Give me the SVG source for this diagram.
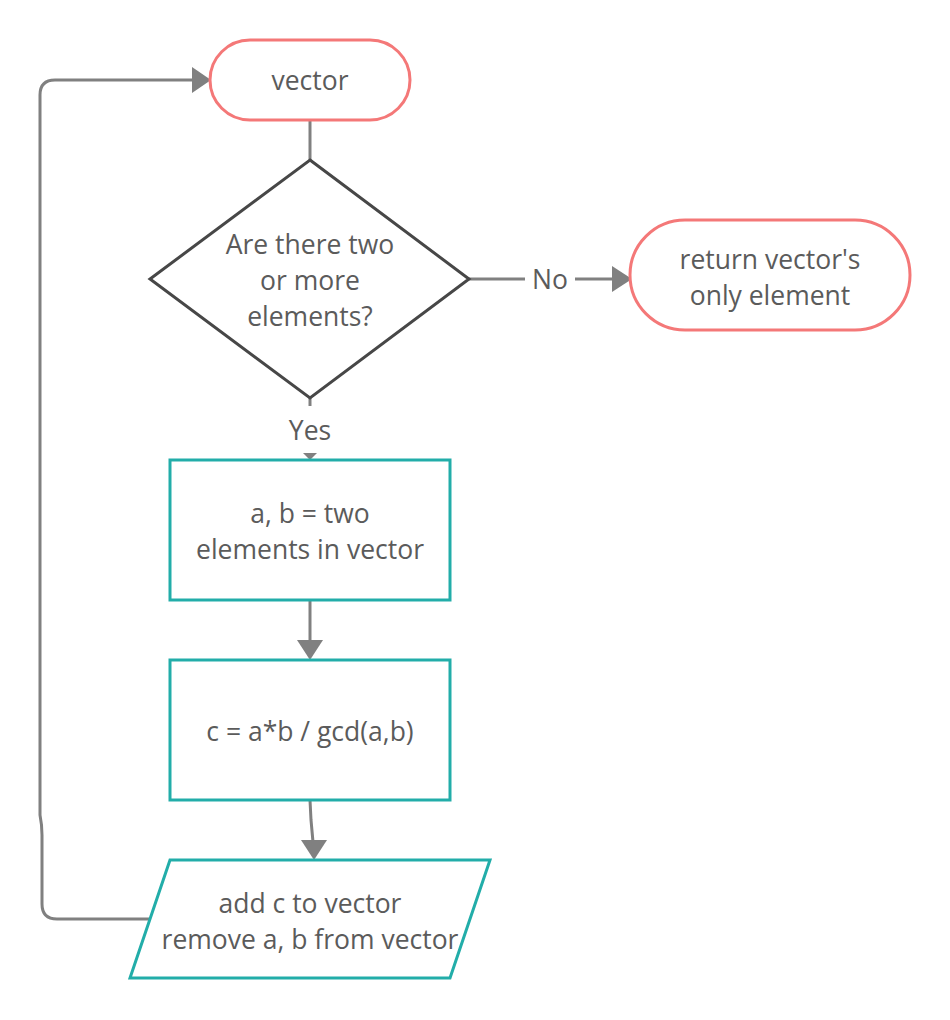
<svg xmlns="http://www.w3.org/2000/svg" width="950" height="1020" viewBox="0 0 950 1020">
<defs>
<style>
.t{font-family:"Open Sans","Noto Sans",sans-serif;font-size:26.5px;fill:#5b5b5b;text-anchor:middle}
.term{fill:#fff;stroke:#F47878;stroke-width:3}
.proc{fill:#fff;stroke:#22ADA9;stroke-width:3}
.dec{fill:#fff;stroke:#474747;stroke-width:3}
.c{fill:none;stroke:#808080;stroke-width:3}
.ah{fill:#808080}
</style>
</defs>
<rect width="950" height="1020" fill="#fff"/>
<g id="connectors">
<path class="c" d="M310,120 V160"/>
<path class="c" d="M469,279 H525"/>
<path class="c" d="M575,279 H614"/>
<polygon class="ah" points="612,266 632,279 612,292"/>
<text class="t" x="550" y="289">No</text>
<path class="c" d="M310,398 V406"/>
<text class="t" x="310" y="440">Yes</text>
<polygon class="ah" points="303,453 317,453 310,460"/>
<path class="c" d="M310,600 V642"/>
<polygon class="ah" points="297,640 323,640 310,660"/>
<path class="c" d="M310,800 L311,820 L313,842"/>
<polygon class="ah" points="301,840 327,840 314,860"/>
<path class="c" d="M150,919 H57 Q42,919 42,904 V835 Q42,825 40,815 V95 Q40,80 55,80 H193"/>
<polygon class="ah" points="192,67 211,80 192,93"/>
</g>
<g id="start">
<rect class="term" x="210" y="40" width="200" height="80" rx="40"/>
<text class="t" x="310" y="90">vector</text>
</g>
<g id="decision">
<polygon class="dec" points="310,160 469,279 310,398 150,279"/>
<text class="t" x="310" y="254">Are there two</text>
<text class="t" x="310" y="290">or more</text>
<text class="t" x="310" y="326">elements?</text>
</g>
<g id="end">
<rect class="term" x="630" y="220" width="280" height="110" rx="55"/>
<text class="t" x="770" y="269">return vector's</text>
<text class="t" x="770" y="305">only element</text>
</g>
<g id="pick">
<rect class="proc" x="170" y="460" width="280" height="140"/>
<text class="t" x="310" y="523">a, b = two</text>
<text class="t" x="310" y="559">elements in vector</text>
</g>
<g id="compute">
<rect class="proc" x="170" y="660" width="280" height="140"/>
<text class="t" x="310" y="741">c = a*b / gcd(a,b)</text>
</g>
<g id="update">
<polygon class="proc" points="170,860 490,860 450,978 130,978"/>
<text class="t" x="310" y="913">add c to vector</text>
<text class="t" x="310" y="949">remove a, b from vector</text>
</g>
</svg>
